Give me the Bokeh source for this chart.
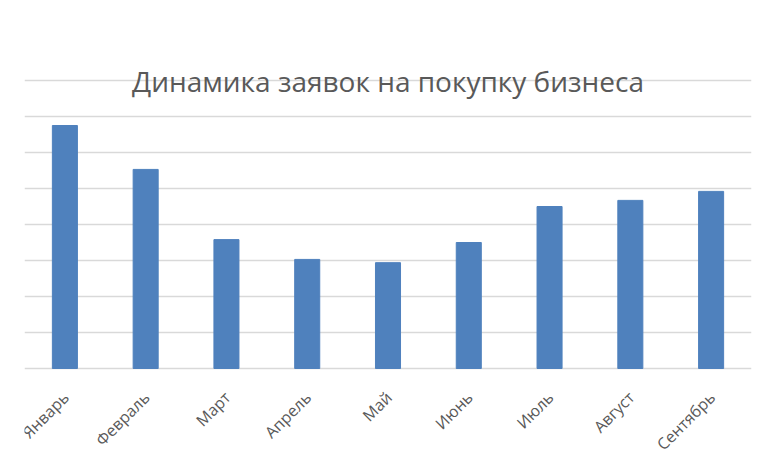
import math
from bokeh.plotting import figure
from bokeh.models import FactorRange, Range1d, FixedTicker, Label, LabelSet, ColumnDataSource
from bokeh.core.properties import value
from bokeh.embed import file_html
from bokeh.resources import INLINE

title_text = "Динамика заявок на покупку бизнеса"
months = ["Январь", "Февраль", "Март", "Апрель", "Май", "Июнь", "Июль", "Август", "Сентябрь"]
values = [67.5, 55.3, 35.8, 30.3, 29.4, 35.0, 45.0, 46.7, 49.2]
grid_ticks = [0, 10, 20, 30, 40, 50, 60, 70, 80]

PX_PER_UNIT = 3.6
BOTTOM_SPACE_PX = 86

p = figure(
    width=757, height=454,
    x_range=FactorRange(factors=months, range_padding=0),
    y_range=Range1d(-BOTTOM_SPACE_PX / PX_PER_UNIT, 100),
    output_backend="svg", toolbar_location=None,
    min_border_left=24, min_border_right=6, min_border_top=8, min_border_bottom=0,
)
p.title.visible = False
p.outline_line_color = None
p.background_fill_color = "white"

p.vbar(x=months, top=values, bottom=0, width=0.31, color="#4f81bd")

p.yaxis.visible = False
p.xaxis.visible = False
p.ygrid.ticker = FixedTicker(ticks=grid_ticks)
p.ygrid.grid_line_color = "#d9d9d9"
p.ygrid.grid_line_width = 1.5
p.xgrid.grid_line_color = None

src = ColumnDataSource(dict(x=months, y=[grid_ticks[0]] * len(months), text=months))
labels = LabelSet(
    x="x", y="y", text="text", source=src,
    angle=math.pi / 4, text_align="right", text_baseline="middle",
    x_offset=1, y_offset=-26,
    text_font=value("Open Sans"), text_font_size=value("16px"), text_color="#595959",
)
p.add_layout(labels)

title = Label(
    x=len(months) / 2, y=80, text=title_text,
    text_align="center", text_baseline="middle",
    text_font="Open Sans", text_font_size="28px", text_color="#595959",
)
p.add_layout(title)

open("out.html", "w").write(file_html(p, INLINE))
